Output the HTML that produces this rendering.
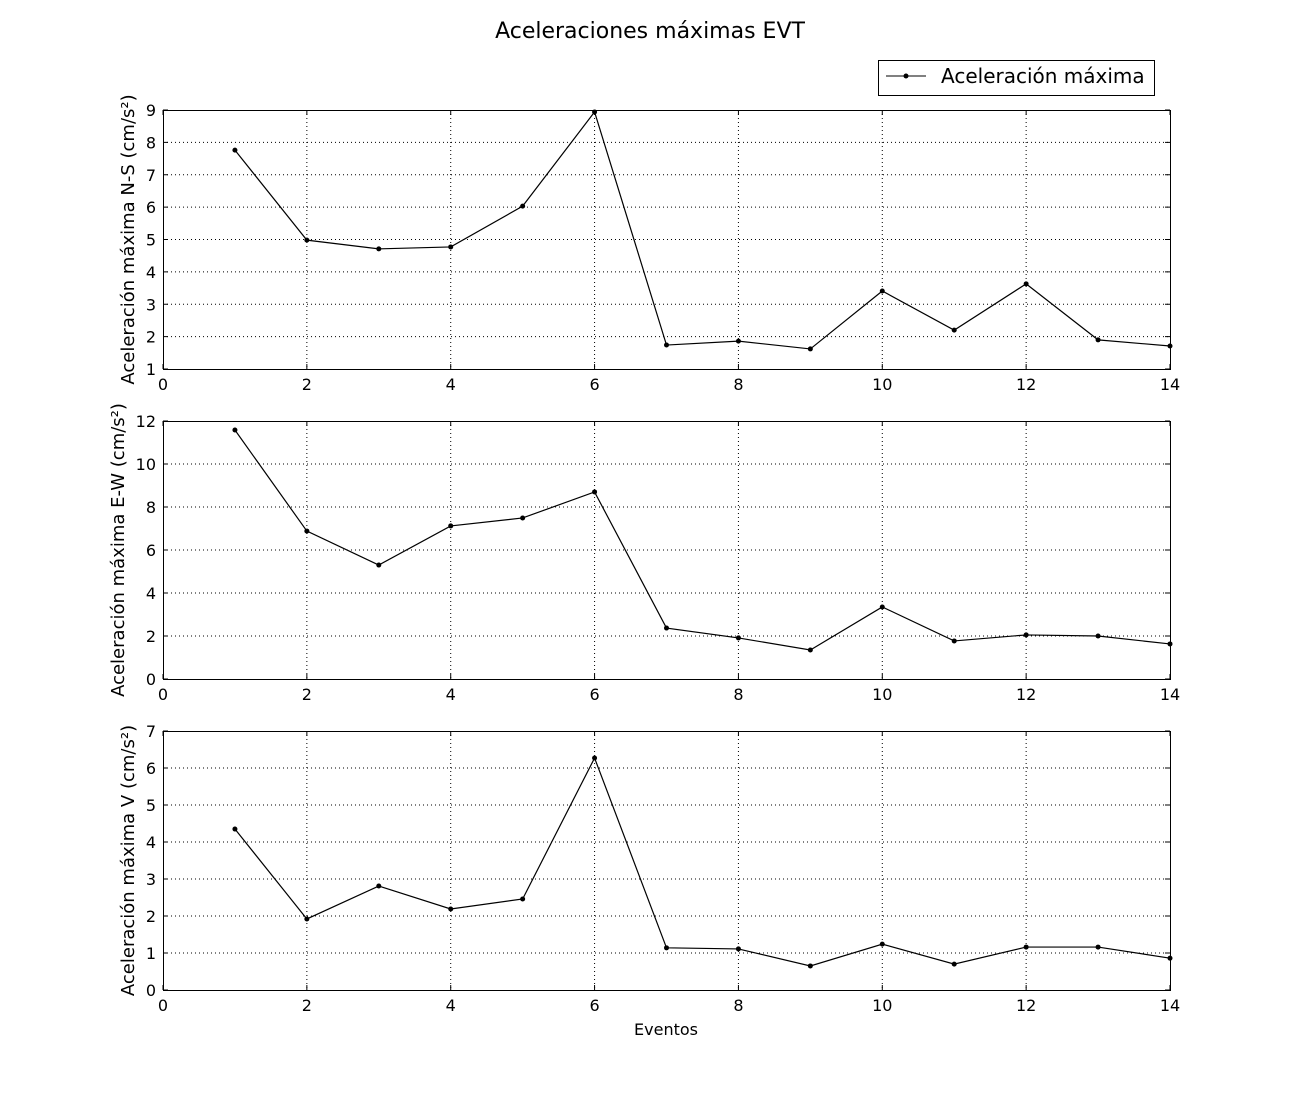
<!DOCTYPE html>
<html><head><meta charset="utf-8"><style>
body{margin:0;background:#fff;}
svg{display:block;font-family:"DejaVu Sans","Liberation Sans",sans-serif;}
</style></head><body>
<svg id="c" width="1300" height="1100" xmlns="http://www.w3.org/2000/svg">
<rect width="1300" height="1100" fill="#fff"/>
<text x="650" y="38" text-anchor="middle" font-size="22">Aceleraciones máximas EVT</text>
<g>
<rect x="878.5" y="60.5" width="276" height="35" fill="#fff" stroke="#000"/>
<line x1="886" y1="76" x2="926" y2="76" stroke="#000"/>
<circle cx="906" cy="76" r="2.5" fill="#000"/>
<text x="941" y="83" font-size="20">Aceleración máxima</text>
</g>
<text x="666" y="1035" text-anchor="middle" font-size="16">Eventos</text>
</svg>
<script>
const events=[1,2,3,4,5,6,7,8,9,10,11,12,13,14];
const nsValues=[7.76,4.98,4.71,4.77,6.03,8.94,1.74,1.86,1.62,3.41,2.2,3.63,1.9,1.71];
const ewValues=[11.58,6.88,5.3,7.12,7.49,8.7,2.37,1.91,1.35,3.35,1.77,2.05,2.0,1.63];
const vValues=[4.35,1.92,2.81,2.19,2.46,6.27,1.14,1.11,0.65,1.24,0.70,1.16,1.16,0.86];
const xTicks=[0,2,4,6,8,10,12,14];
const nsTicks=[1,2,3,4,5,6,7,8,9];
const ewTicks=[0,2,4,6,8,10,12];
const vTicks=[0,1,2,3,4,5,6,7];
const svg=document.getElementById('c');
const NS='http://www.w3.org/2000/svg';
function mk(t,a,p){const e=document.createElementNS(NS,t);for(const k in a)e.setAttribute(k,a[k]);(p||svg).appendChild(e);return e;}
const X0=163,X1=1170;
function xs(v){return X0+(v-0)/14*(X1-X0);}
function panel(name,top,bot,ymin,ymax,ticks,vals,label){
  const g=mk('g',{});
  
  
  const ys=v=>bot-(v-ymin)/(ymax-ymin)*(bot-top);
  xTicks.forEach(t=>{
    const x=xs(t);
    if(t>0&&t<14){const l=mk('line',{x1:x,x2:x,y1:top,y2:bot,stroke:'#000','stroke-dasharray':'1,3','stroke-width':1},g);
      }
    mk('line',{x1:x,x2:x,y1:bot,y2:bot-5,stroke:'#000'},g);
    mk('line',{x1:x,x2:x,y1:top,y2:top+5,stroke:'#000'},g);
    const tx=mk('text',{x:x,y:bot+21,'text-anchor':'middle','font-size':16},g);tx.textContent=t;
    
  });
  ticks.forEach(t=>{
    const y=ys(t);
    if(t>ymin&&t<ymax){const l=mk('line',{x1:X0,x2:X1,y1:y,y2:y,stroke:'#000','stroke-dasharray':'1,3','stroke-width':1},g);
      }
    mk('line',{x1:X0,x2:X0+5,y1:y,y2:y,stroke:'#000'},g);
    mk('line',{x1:X1,x2:X1-5,y1:y,y2:y,stroke:'#000'},g);
    const tx=mk('text',{x:X0-7,y:y+6,'text-anchor':'end','font-size':16},g);tx.textContent=t;
    
  });
  const r=mk('rect',{x:X0+0.5,y:top+0.5,width:X1-X0,height:bot-top,fill:'none',stroke:'#000'},g);
  
  const pts=events.map((e,i)=>xs(e)+','+ys(vals[i])).join(' ');
  const pl=mk('polyline',{points:pts,fill:'none',stroke:'#000','stroke-width':1.2},g);
  
  events.forEach((e,i)=>{const c=mk('circle',{cx:xs(e),cy:ys(vals[i]),r:2.5,fill:'#000'},g);
    });
  const cy=(top+bot)/2;
  const yl=mk('text',{x:0,y:0,'text-anchor':'middle','font-size':18,transform:`translate(${name==='ew'?124:134},${cy}) rotate(-90)`},g);
  yl.textContent=label;
  
}
panel('ns',110,369,1,9,nsTicks,nsValues,'Aceleración máxima N-S (cm/s²)');
panel('ew',421,679,0,12,ewTicks,ewValues,'Aceleración máxima E-W (cm/s²)');
panel('v',731,990,0,7,vTicks,vValues,'Aceleración máxima V (cm/s²)');
</script>
</body></html>
